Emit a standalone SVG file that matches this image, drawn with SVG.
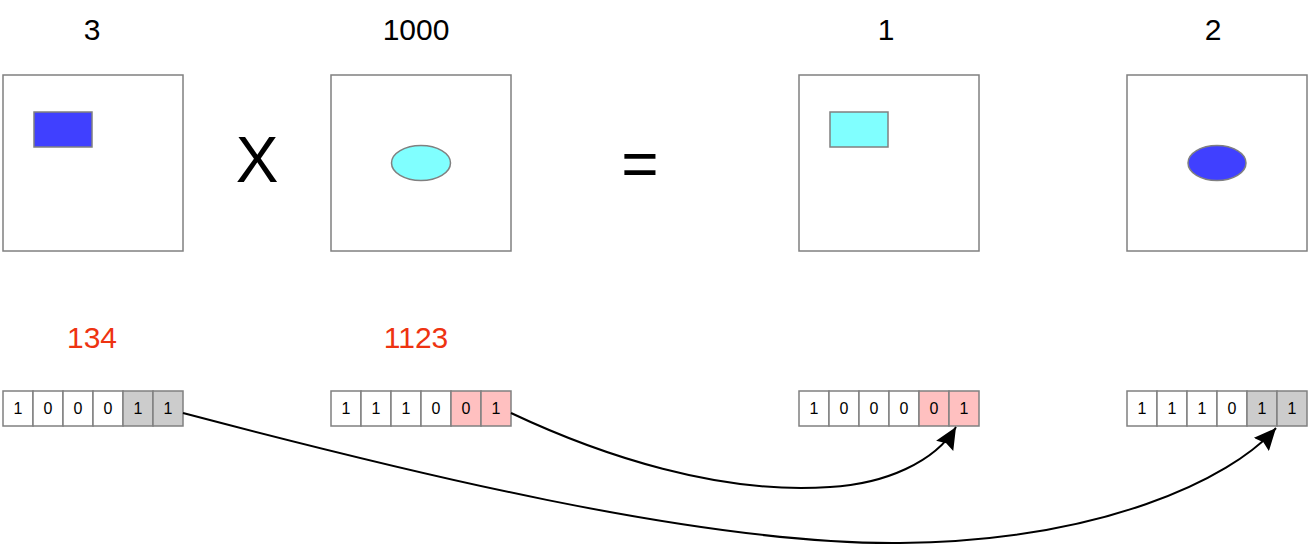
<svg xmlns="http://www.w3.org/2000/svg" width="1308" height="546" viewBox="0 0 1308 546">
<style>
.box{fill:#fff;stroke:#808080;stroke-width:1.5}
.cell{stroke:#808080;stroke-width:1.5}
.w{fill:#fff}.g{fill:#ccc}.p{fill:#ffc0c0}
.ct{font-family:"Liberation Sans",Arial,sans-serif;font-size:16px;fill:#000;text-anchor:middle}
.lbl{font-family:"Liberation Sans",Arial,sans-serif;font-size:30px;fill:#000;text-anchor:middle}
.red{fill:#ee3311}
.op{font-family:"Liberation Sans",Arial,sans-serif;font-size:64px;fill:#000;text-anchor:middle}
.edge{fill:none;stroke:#000;stroke-width:2}
</style>
<defs>
<marker id="arr" viewBox="0 0 22 20" refX="22" refY="10" markerWidth="22" markerHeight="20" markerUnits="userSpaceOnUse" orient="auto">
<path d="M0,0 L22,10 L0,20 L3,10 Z" fill="#000"/>
</marker>
</defs>
<rect width="1308" height="546" fill="#fff"/>
<g id="label-3"><text class="lbl" x="92" y="40">3</text></g>
<g id="label-1000"><text class="lbl" x="416" y="40">1000</text></g>
<g id="label-1"><text class="lbl" x="886" y="40">1</text></g>
<g id="label-2"><text class="lbl" x="1213" y="40">2</text></g>
<g id="img-3">
<rect class="box" x="3" y="75" width="180" height="176"/>
<rect x="34" y="112" width="58" height="35" fill="#4040ff" stroke="#808080" stroke-width="1.5"/>
</g>
<g id="op-x"><text class="op" x="257" y="182">X</text></g>
<g id="img-1000">
<rect class="box" x="331" y="75" width="180" height="176"/>
<ellipse cx="421" cy="163" rx="29.5" ry="17.5" fill="#80ffff" stroke="#808080" stroke-width="1.5"/>
</g>
<g id="op-eq"><text class="op" x="640" y="186">=</text></g>
<g id="img-1">
<rect class="box" x="799" y="75" width="180" height="176"/>
<rect x="830" y="112" width="58" height="35" fill="#80ffff" stroke="#808080" stroke-width="1.5"/>
</g>
<g id="img-2">
<rect class="box" x="1127" y="75" width="180" height="176"/>
<ellipse cx="1217" cy="163" rx="29" ry="17.5" fill="#4040ff" stroke="#808080" stroke-width="1.5"/>
</g>
<g id="label-134"><text class="lbl red" x="92" y="348">134</text></g>
<g id="label-1123"><text class="lbl red" x="416" y="348">1123</text></g>
<g id="bits-134">
<rect class="cell w" x="3" y="391" width="30" height="35"/>
<rect class="cell w" x="33" y="391" width="30" height="35"/>
<rect class="cell w" x="63" y="391" width="30" height="35"/>
<rect class="cell w" x="93" y="391" width="30" height="35"/>
<rect class="cell g" x="123" y="391" width="30" height="35"/>
<rect class="cell g" x="153" y="391" width="30" height="35"/>
<text class="ct" x="18" y="414">1</text><text class="ct" x="48" y="414">0</text><text class="ct" x="78" y="414">0</text><text class="ct" x="108" y="414">0</text><text class="ct" x="138" y="414">1</text><text class="ct" x="168" y="414">1</text>
</g>
<g id="bits-1123">
<rect class="cell w" x="331" y="391" width="30" height="35"/>
<rect class="cell w" x="361" y="391" width="30" height="35"/>
<rect class="cell w" x="391" y="391" width="30" height="35"/>
<rect class="cell w" x="421" y="391" width="30" height="35"/>
<rect class="cell p" x="451" y="391" width="30" height="35"/>
<rect class="cell p" x="481" y="391" width="30" height="35"/>
<text class="ct" x="346" y="414">1</text><text class="ct" x="376" y="414">1</text><text class="ct" x="406" y="414">1</text><text class="ct" x="436" y="414">0</text><text class="ct" x="466" y="414">0</text><text class="ct" x="496" y="414">1</text>
</g>
<g id="bits-1">
<rect class="cell w" x="799" y="391" width="30" height="35"/>
<rect class="cell w" x="829" y="391" width="30" height="35"/>
<rect class="cell w" x="859" y="391" width="30" height="35"/>
<rect class="cell w" x="889" y="391" width="30" height="35"/>
<rect class="cell p" x="919" y="391" width="30" height="35"/>
<rect class="cell p" x="949" y="391" width="30" height="35"/>
<text class="ct" x="814" y="414">1</text><text class="ct" x="844" y="414">0</text><text class="ct" x="874" y="414">0</text><text class="ct" x="904" y="414">0</text><text class="ct" x="934" y="414">0</text><text class="ct" x="964" y="414">1</text>
</g>
<g id="bits-2">
<rect class="cell w" x="1127" y="391" width="30" height="35"/>
<rect class="cell w" x="1157" y="391" width="30" height="35"/>
<rect class="cell w" x="1187" y="391" width="30" height="35"/>
<rect class="cell w" x="1217" y="391" width="30" height="35"/>
<rect class="cell g" x="1247" y="391" width="30" height="35"/>
<rect class="cell g" x="1277" y="391" width="30" height="35"/>
<text class="ct" x="1142" y="414">1</text><text class="ct" x="1172" y="414">1</text><text class="ct" x="1202" y="414">1</text><text class="ct" x="1232" y="414">0</text><text class="ct" x="1262" y="414">1</text><text class="ct" x="1292" y="414">1</text>
</g>
<g id="connectors">
<path class="edge" marker-end="url(#arr)" d="M183,413 C400,470 700,545 900,543 C1100,541 1230,480 1276,428"/>
<path class="edge" marker-end="url(#arr)" d="M511,413 C600,455 720,495 830,487 C885,484 935,462 956,427"/>
</g>
</svg>
